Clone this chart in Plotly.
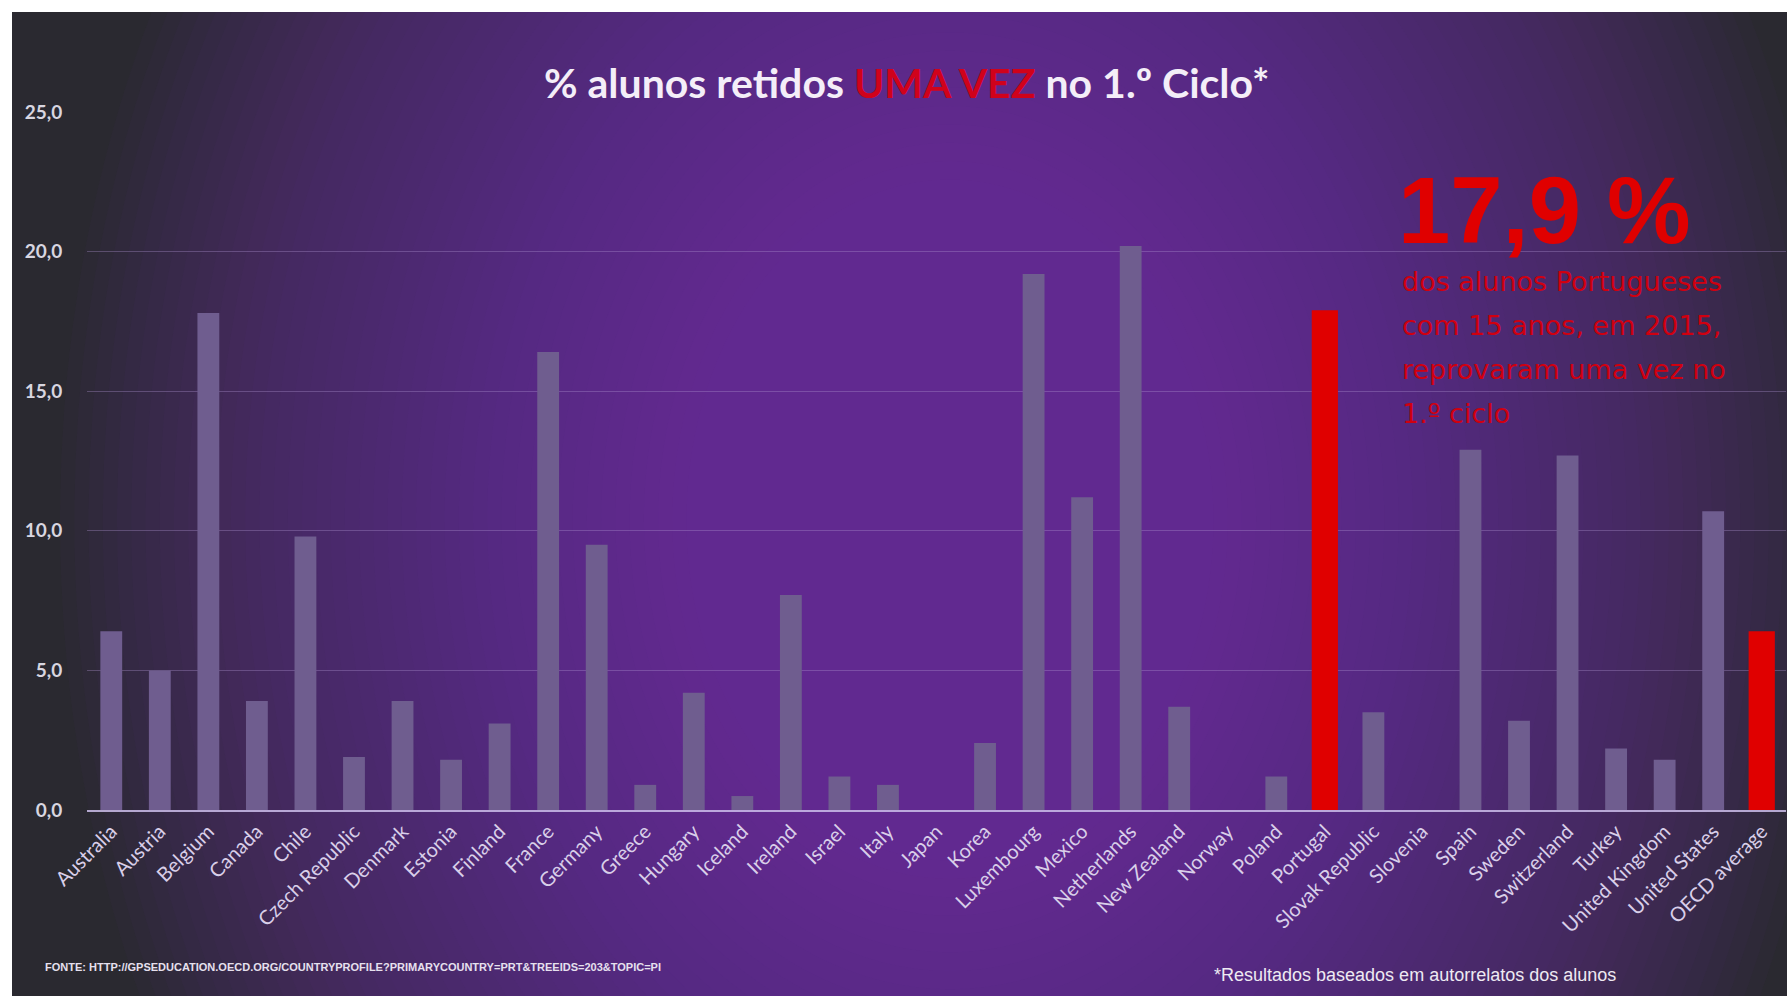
import plotly.graph_objects as go

categories = ["Australia", "Austria", "Belgium", "Canada", "Chile", "Czech Republic", "Denmark",
              "Estonia", "Finland", "France", "Germany", "Greece", "Hungary", "Iceland", "Ireland",
              "Israel", "Italy", "Japan", "Korea", "Luxembourg", "Mexico", "Netherlands",
              "New Zealand", "Norway", "Poland", "Portugal", "Slovak Republic", "Slovenia", "Spain",
              "Sweden", "Switzerland", "Turkey", "United Kingdom", "United States", "OECD average"]
values = [6.4, 5.0, 17.8, 3.9, 9.8, 1.9, 3.9,
          1.8, 3.1, 16.4, 9.5, 0.9, 4.2, 0.5, 7.7,
          1.2, 0.9, 0.0, 2.4, 19.2, 11.2, 20.2,
          3.7, 0.0, 1.2, 17.9, 3.5, 0.0, 12.9,
          3.2, 12.7, 2.2, 1.8, 10.7, 6.4]
highlight = ["Portugal", "OECD average"]
y_ticks = [0, 5, 10, 15, 20, 25]
note_lines = ["dos alunos Portugueses", "com 15 anos, em 2015,", "reprovaram uma vez no", "1.º ciclo"]

W, H = 1787, 996
L, R, T, B = 87, 1786, 112, 810


def px(x):
    return (x - L) / (R - L)


def py(y):
    return (B - y) / (B - T)


colors = ["#e00000" if c in highlight else "#6f5d8f" for c in categories]
widths = [0.54 if c in highlight else 0.45 for c in categories]

fig = go.Figure()
fig.add_trace(go.Bar(
    x=categories, y=values, width=widths,
    marker=dict(color=colors, line=dict(width=0)),
    hoverinfo="x+y",
))

shapes = []
# dark background
shapes.append(dict(type="rect", xref="paper", yref="paper", layer="below",
                   x0=px(12), x1=px(W + 5), y0=py(H + 5), y1=py(12),
                   fillcolor="#2a2930", line=dict(width=0)))
# radial purple glow
n = 45
cx, cy, rx, ry = 950, 520, 890, 1150
for k in range(n):
    f = 1 - 0.72 * k / n
    shapes.append(dict(type="circle", xref="paper", yref="paper", layer="below",
                       x0=px(cx - rx * f), x1=px(cx + rx * f),
                       y0=py(cy + ry * f), y1=py(cy - ry * f),
                       fillcolor="rgba(140,48,190,0.033)", line=dict(width=0)))
# white borders
shapes.append(dict(type="rect", xref="paper", yref="paper", layer="below",
                   x0=px(-50), x1=px(12), y0=py(H + 50), y1=py(-50),
                   fillcolor="white", line=dict(width=0)))
shapes.append(dict(type="rect", xref="paper", yref="paper", layer="below",
                   x0=px(-50), x1=px(W + 50), y0=py(12), y1=py(-50),
                   fillcolor="white", line=dict(width=0)))

annotations = []
annotations.append(dict(
    xref="paper", yref="paper", x=px(906), y=py(83), xanchor="center", yanchor="middle",
    text="% alunos retidos <span style='color:#d0021b'>UMA VEZ</span> no 1.º Ciclo*",
    showarrow=False, font=dict(family="Lato", size=41, color="#f4eef8", weight="bold")))
annotations.append(dict(
    xref="paper", yref="paper", x=px(1396), y=py(210), xanchor="left", yanchor="middle",
    text="17,9 %", showarrow=False,
    font=dict(family="Liberation Sans", size=94, color="#e00000", weight="bold")))
for i, line in enumerate(note_lines):
    annotations.append(dict(
        xref="paper", yref="paper", x=px(1400), y=py(281 + 44 * i), xanchor="left", yanchor="middle",
        text=line, showarrow=False,
        font=dict(family="DejaVu Sans", size=27, color="#d00010")))
annotations.append(dict(
    xref="paper", yref="paper", x=px(43), y=py(967), xanchor="left", yanchor="middle",
    text="FONTE: HTTP://GPSEDUCATION.OECD.ORG/COUNTRYPROFILE?PRIMARYCOUNTRY=PRT&TREEIDS=203&TOPIC=PI",
    showarrow=False, font=dict(family="Liberation Sans", size=11, color="#e6e0ee", weight="bold")))
annotations.append(dict(
    xref="paper", yref="paper", x=px(1212), y=py(975), xanchor="left", yanchor="middle",
    text="*Resultados baseados em autorrelatos dos alunos",
    showarrow=False, font=dict(family="Liberation Sans", size=18, color="#eeeaf2")))

fig.update_layout(
    width=W, height=H,
    margin=dict(l=L, r=W - R, t=T, b=H - B, pad=0),
    paper_bgcolor="white",
    plot_bgcolor="rgba(0,0,0,0)",
    showlegend=False,
    separators=",.",
    shapes=shapes,
    annotations=annotations,
    bargap=0.55,
)
fig.update_xaxes(
    showgrid=False, showline=True, linecolor="rgba(205,190,235,0.85)", linewidth=2,
    tickangle=-45, ticks="", tickfont=dict(family="Lato", size=20, color="#d9cfe9"),
    range=[-0.5, len(categories) - 0.5],
)
fig.update_yaxes(
    range=[0, 25], tickvals=y_ticks, tickformat=".1f",
    showgrid=True, gridcolor="rgba(175,150,210,0.35)", gridwidth=1,
    zeroline=False, showline=False,
    ticks="outside", ticklen=20, tickcolor="rgba(0,0,0,0)",
    tickfont=dict(family="Lato", size=19, color="#d8d6e0", weight="bold"),
)

fig.write_html("out.html", config={"displayModeBar": False},
               post_script="document.body.style.margin='0';document.body.style.overflow='hidden';")
